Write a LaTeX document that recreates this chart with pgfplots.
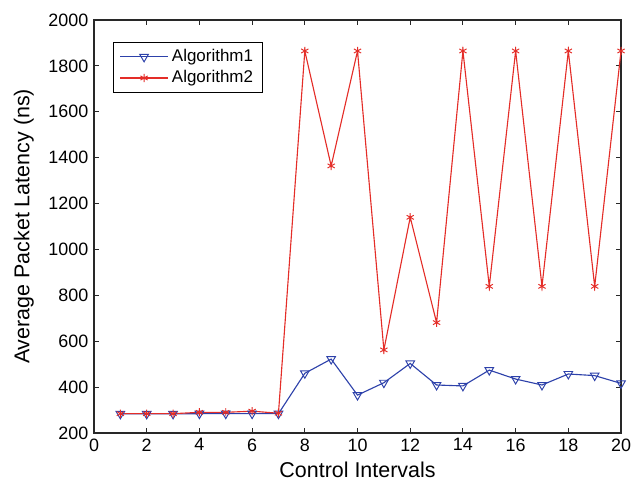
\documentclass[border=0pt]{standalone}
\usepackage{fontspec}
\setmainfont{Liberation Sans}
\usepackage{pgfplots}
\pgfplotsset{compat=1.18}
\definecolor{algoblue}{RGB}{45,65,170}
\definecolor{algored}{RGB}{228,45,40}
\definecolor{framegray}{RGB}{40,40,40}

\begin{document}
\begin{tikzpicture}
\begin{axis}[
  scale only axis,
  width=329.4pt, height=258.1pt,
  xmin=0, xmax=20, ymin=200, ymax=2000,
  xtick={0,2,...,20},
  ytick={200,400,...,2000},
  tick align=inside,
  major tick length=3pt,
  axis line style={framegray, line width=0.8pt},
  tick style={framegray, line width=0.6pt},
  every tick label/.append style={font=\fontsize{11.2}{13}\selectfont},
  /pgf/number format/assume math mode=true,
  /pgf/number format/1000 sep={},
  xlabel={Control Intervals},
  ylabel={Average Packet Latency (ns)},
  label style={font=\fontsize{13.4}{15}\selectfont},
  xlabel style={at={(axis description cs:0.5,-0.0896)}, anchor=center},
  ylabel style={at={(axis description cs:-0.133,0.5)}, anchor=center},
  legend style={at={(rel axis cs:0.036,0.947)}, anchor=north west,
    font=\fontsize{10.6}{12}\selectfont, draw=black, line width=0.6pt,
    inner xsep=4pt, inner ysep=2.5pt, row sep=0pt,
    legend image post style={line width=0.7pt}},
  legend cell align=left,
  legend image code/.code={
    \path (0cm,0cm) -- (1.05cm,0cm);
    \draw[mark repeat=2,mark phase=2] plot coordinates {(0.15cm,0cm) (0.52cm,0cm) (0.89cm,0cm)};},
]
\addplot[algoblue, line width=0.7pt, mark=triangle, mark size=3.1pt,
  mark options={rotate=180, fill=none, line width=0.6pt}]
  coordinates {
  (1,283) (2,283) (3,283) (4,284) (5,284) (6,284) (7,284)
  (8,460) (9,522) (10,365) (11,419) (12,503) (13,409) (14,405)
  (15,474) (16,435) (17,409) (18,457) (19,450) (20,416)};
\addlegendentry{Algorithm1}
\addplot[algored, line width=0.7pt, mark=asterisk, mark size=2.6pt,
  mark options={line width=0.6pt}]
  coordinates {
  (1,284) (2,284) (3,284) (4,290) (5,290) (6,295) (7,286)
  (8,1865) (9,1364) (10,1865) (11,562) (12,1140) (13,681) (14,1865)
  (15,839) (16,1865) (17,839) (18,1865) (19,839) (20,1865)};
\addlegendentry{Algorithm2}
\end{axis}
\pgfresetboundingbox
\useasboundingbox ([xshift=-58.75pt,yshift=-31.9pt]current axis.south west)
  rectangle ([xshift=13.1pt,yshift=12.5pt]current axis.north east);
\end{tikzpicture}
\end{document}
